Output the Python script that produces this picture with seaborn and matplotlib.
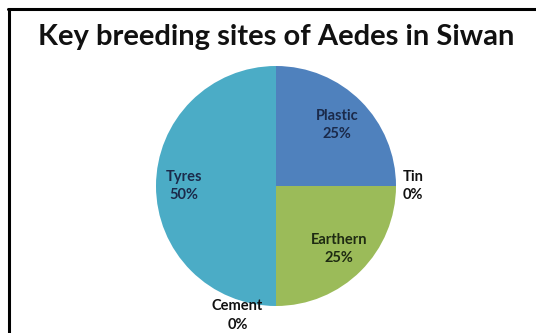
import matplotlib
matplotlib.use("Agg")
import matplotlib.pyplot as plt
import seaborn as sns
import numpy as np
from matplotlib.lines import Line2D

sns.set_theme(style="white")
plt.rcParams['font.family'] = ['Lato', 'DejaVu Sans']

categories = ["Plastic", "Tin", "Earthern", "Cement", "Tyres"]
values = [25, 0, 25, 0, 50]
pct_labels = ["25%", "0%", "25%", "0%", "50%"]
title = "Key breeding sites of Aedes in Siwan"

colors = ["#4F81BD", "#C0504D", "#9BBB59", "#8064A2", "#4BACC6"]
text_colors = ["#1B2A4A", "#111111", "#1E2A12", "#111111", "#1B2A4A"]

W, H = 536, 333
fig = plt.figure(figsize=(W / 100, H / 100), dpi=100)
fig.patch.set_facecolor("white")

cx, cy, r = 276, 186, 120
ax = fig.add_axes([(cx - r) / W, (H - cy - r) / H, 2 * r / W, 2 * r / H])
wedges, _ = ax.pie(values, colors=colors, startangle=90, counterclock=False,
                   radius=1, wedgeprops=dict(linewidth=0))
ax.set_xlim(-1, 1)
ax.set_ylim(-1, 1)
ax.set_aspect("equal")
ax.axis("off")

# label distances (style)
dist = {0: 0.72, 1: 1.14, 2: 0.74, 3: 1.08, 4: 0.77}
shift = {3: (-0.32, 0.0), 1: (0.0, 0.0)}
for i, w in enumerate(wedges):
    ang = np.deg2rad((w.theta1 + w.theta2) / 2)
    d = dist[i]
    x, y = d * np.cos(ang), d * np.sin(ang)
    dx, dy = shift.get(i, (0, 0))
    ax.text(x + dx, y + dy, f"{categories[i]}\n{pct_labels[i]}", ha="center", va="center",
            fontsize=10.5, fontweight="bold", color=text_colors[i], linespacing=1.4,
            clip_on=False)

fig.text(0.516, 1 - 37 / H, title, ha="center", va="center", fontsize=21,
         fontweight="bold", color="#111111")

# frame lines
fig.add_artist(Line2D([9 / W, 9 / W], [0, 1 - 9 / H], transform=fig.transFigure,
                      color="black", linewidth=2.2))
fig.add_artist(Line2D([8 / W, 1], [1 - 9 / H, 1 - 9 / H], transform=fig.transFigure,
                      color="black", linewidth=2.2))

fig.savefig("out.png", dpi=100)
